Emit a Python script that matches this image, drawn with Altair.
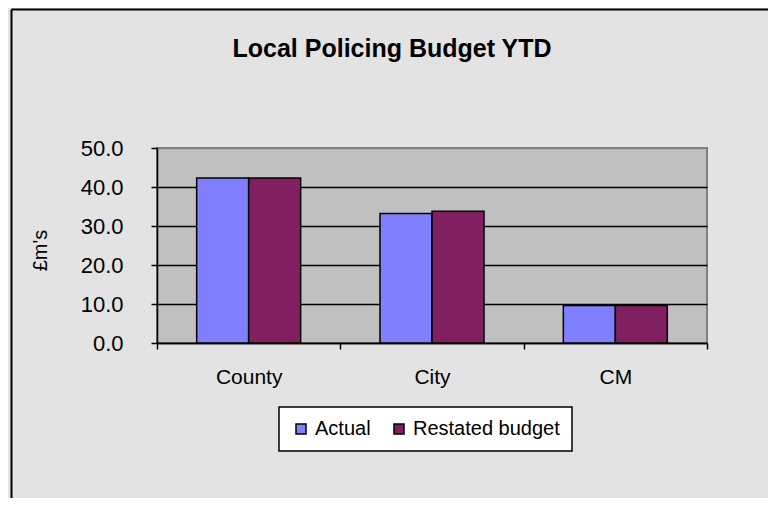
import altair as alt
import pandas as pd

categories = ["County", "City", "CM"]
series = ["Actual", "Restated budget"]
actual = [42.3, 33.2, 9.6]
restated = [42.3, 33.8, 9.6]
y_ticks = [0, 10, 20, 30, 40, 50]
colors = ["#8080FF", "#802060"]

rows = []
for c, a, r in zip(categories, actual, restated):
    rows.append({"category": c, "series": series[0], "value": a})
    rows.append({"category": c, "series": series[1], "value": r})
df = pd.DataFrame(rows)

FONT = "Liberation Sans"

bars = alt.Chart(df).mark_bar(stroke="black", strokeWidth=1.5).encode(
    x=alt.X(
        "category:N",
        sort=categories,
        scale=alt.Scale(paddingInner=0, paddingOuter=0),
        axis=alt.Axis(
            title=None, labelAngle=0, tickBand="extent", ticks=True, tickSize=6,
            tickColor="black", tickWidth=1.5, domainColor="black", domainWidth=1.5,
            labelFontSize=21, labelPadding=17, labelColor="black", labelFont=FONT,
            grid=False,
        ),
    ),
    xOffset=alt.XOffset("series:N", sort=series,
                        scale=alt.Scale(paddingInner=0, paddingOuter=0.763)),
    y=alt.Y(
        "value:Q",
        scale=alt.Scale(domain=[0, 50], nice=False),
        axis=alt.Axis(
            values=y_ticks, format=".1f", title="£m's",
            titleFont=FONT, titleFontSize=20, titleFontWeight="normal", titleColor="black",
            titleX=-117, titleY=102, titleAlign="center", titleBaseline="middle",
            labelFont=FONT, labelFontSize=22, labelColor="black", labelPadding=28,
            tickSize=6, tickColor="black", tickWidth=1.5,
            domainColor="black", domainWidth=1.5,
            grid=True, gridWidth=1.5, gridOpacity=1,
            gridColor={"condition": {"test": "datum.value === 50", "value": "#808080"}, "value": "black"},
        ),
    ),
    color=alt.Color(
        "series:N", sort=series,
        scale=alt.Scale(domain=series, range=colors),
        legend=alt.Legend(
            title=None, orient="none", legendX=122, legendY=259, direction="horizontal",
            fillColor="white", strokeColor="black", padding=12,
            symbolType="square", symbolSize=100, symbolStrokeColor="black", symbolStrokeWidth=1.5,
            labelFont=FONT, labelFontSize=20, labelColor="black", labelOffset=4, columnPadding=18,
        ),
    ),
)

frame_df = pd.DataFrame({"k": [0]})
frame_left = alt.Chart(frame_df).mark_rule(color="black", strokeWidth=2).encode(
    x=alt.value(-145.5), y=alt.value(-138.5), y2=alt.value(350)
)
frame_top = alt.Chart(frame_df).mark_rule(color="black", strokeWidth=2).encode(
    x=alt.value(-145.5), x2=alt.value(611), y=alt.value(-138.5)
)

chart = alt.layer(frame_left, frame_top, bars).properties(
    width=550,
    height=195,
    autosize=alt.AutoSizeParams(type="none"),
    padding={"left": 149, "top": 140, "right": 61, "bottom": 155},
    title=alt.TitleParams(
        "Local Policing Budget  YTD", font=FONT, fontSize=25, fontWeight="bold",
        color="black", anchor="middle", dx=-40, offset=0, dy=53,
    ),
).configure(background="#E3E3E3").configure_view(
    fill="#C0C0C0", stroke="#808080", strokeWidth=2
).configure_legend(strokeWidth=1.5)

chart.save("out.html", embed_options={"renderer": "svg", "actions": False})
